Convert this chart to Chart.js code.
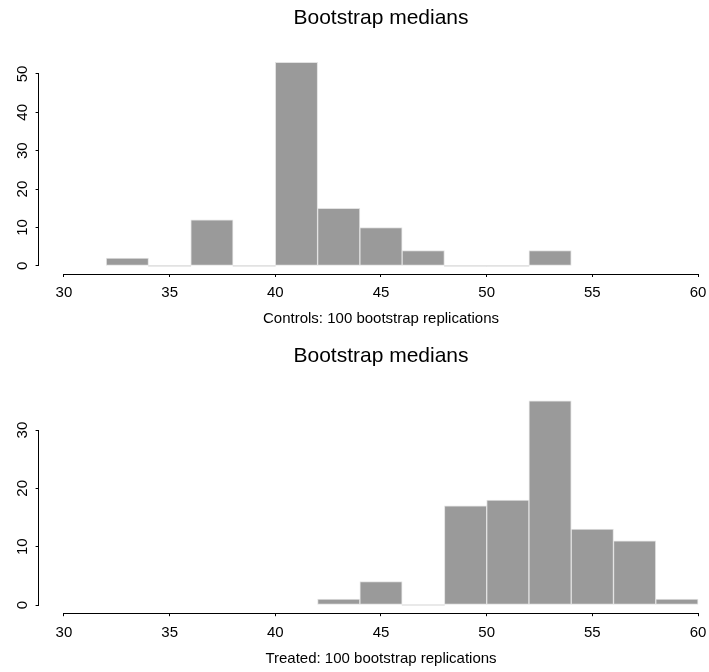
<!DOCTYPE html>
<html>
<head>
<meta charset="utf-8">
<script src="https://cdn.jsdelivr.net/npm/chart.js@4.4.1/dist/chart.umd.min.js"></script>
<style>
  html, body { margin: 0; padding: 0; background: #fff; }
  #wrap { width: 709px; height: 672px; overflow: hidden; }
  canvas { display: block; }
</style>
</head>
<body>
<div id="wrap">
  <canvas id="chart1" width="760" height="336"></canvas>
  <canvas id="chart2" width="760" height="336"></canvas>
</div>
<script>
// bin midpoints (bins are 2 wide) and counts
var controlBins = [33, 35, 37, 39, 41, 43, 45, 47, 49, 51, 53];
var controlCounts = [2, 0, 12, 0, 53, 15, 10, 4, 0, 0, 4];
var treatedBins = [43, 45, 47, 49, 51, 53, 55, 57, 59];
var treatedCounts = [1, 4, 0, 17, 18, 35, 13, 11, 1];
var xTicks = [30, 35, 40, 45, 50, 55, 60];
var controlYTicks = [0, 10, 20, 30, 40, 50];
var treatedYTicks = [0, 10, 20, 30];

var fontFamily = "'Liberation Sans', Arial, Helvetica, sans-serif";

// R draws the axis line only between the first and the last tick
const axisLines = {
  id: "axisLines",
  afterDraw(chart) {
    const ctx = chart.ctx;
    const xs = chart.scales.x, ys = chart.scales.y;
    const xt = xs.ticks, yt = ys.ticks;
    const by = Math.round(chart.chartArea.bottom) + 0.5;
    const lx = Math.round(chart.chartArea.left) - 0.5;
    ctx.save();
    ctx.strokeStyle = "#000";
    ctx.lineWidth = 1;
    ctx.beginPath();
    ctx.moveTo(xs.getPixelForValue(xt[0].value), by);
    ctx.lineTo(xs.getPixelForValue(xt[xt.length - 1].value), by);
    ctx.moveTo(lx, ys.getPixelForValue(yt[0].value));
    ctx.lineTo(lx, ys.getPixelForValue(yt[yt.length - 1].value));
    ctx.stroke();
    ctx.restore();
  }
};

function makeHist(id, bins, counts, yTicks, xlabel, lay) {
  let maxCount = Math.max.apply(null, counts);
  let pad = maxCount * 0.04;
  return new Chart(id, {
    type: "bar",
    data: {
      datasets: [{
        data: bins.map(function (b, i) { return { x: b, y: counts[i] }; }),
        backgroundColor: function (c) { return c.raw && c.raw.y == 0 ? "#e2e2e2" : "#9a9a9a"; },
        borderColor: "#e2e2e2",
        borderWidth: function (c) { return c.raw && c.raw.y == 0 ? 0 : 1; },
        borderSkipped: false,
        minBarLength: 1,
        barPercentage: 1,
        categoryPercentage: 1
      }]
    },
    options: {
      responsive: false,
      animation: false,
      events: [],
      layout: { padding: { left: 0, right: 36.6, top: 0, bottom: 0 } },
      plugins: {
        legend: { display: false },
        tooltip: { enabled: false },
        title: {
          display: true,
          text: "Bootstrap medians",
          fullSize: false,
          color: "#000",
          font: { family: fontFamily, size: 21, weight: "normal" },
          padding: { top: lay.titleTop, bottom: lay.titleBottom }
        }
      },
      scales: {
        x: {
          type: "linear",
          min: 28.8,
          max: 61.2,
          offset: false,
          grid: { display: true, offset: false, drawOnChartArea: false, drawTicks: true, tickLength: 3, color: "#000", lineWidth: 1 },
          border: { display: false },
          ticks: { color: "#000", padding: lay.tickPad, font: { family: fontFamily, size: 15 }, maxRotation: 0, autoSkip: false },
          title: {
            display: true,
            text: xlabel,
            color: "#000",
            font: { family: fontFamily, size: 15 },
            padding: { top: 0, bottom: lay.labelBottom }
          },
          afterBuildTicks: function (scale) {
            scale.ticks = xTicks.map(function (v) { return { value: v }; });
          },
          afterFit: function (scale) { scale.height = lay.xHeight; }
        },
        y: {
          min: -pad,
          max: maxCount + pad,
          grid: { display: true, drawOnChartArea: false, drawTicks: true, tickLength: 3, color: "#000", lineWidth: 1 },
          border: { display: false },
          ticks: { color: "#000", padding: 4.2, crossAlign: "center", minRotation: 90, maxRotation: 90, font: { family: fontFamily, size: 15 } },
          afterBuildTicks: function (scale) {
            scale.ticks = yTicks.map(function (v) { return { value: v }; });
          },
          afterFit: function (scale) { scale.width = 38.6; }
        }
      }
    },
    plugins: [axisLines]
  });
}

makeHist("chart1", controlBins, controlCounts, controlYTicks, "Controls: 100 bootstrap replications",
  { titleTop: 5.4, titleBottom: 23.7, tickPad: 7, labelBottom: 8, xHeight: 62 });
makeHist("chart2", treatedBins, treatedCounts, treatedYTicks, "Treated: 100 bootstrap replications",
  { titleTop: 8.1, titleBottom: 23.4, tickPad: 7.8, labelBottom: 4, xHeight: 58.8 });
</script>
</body>
</html>
